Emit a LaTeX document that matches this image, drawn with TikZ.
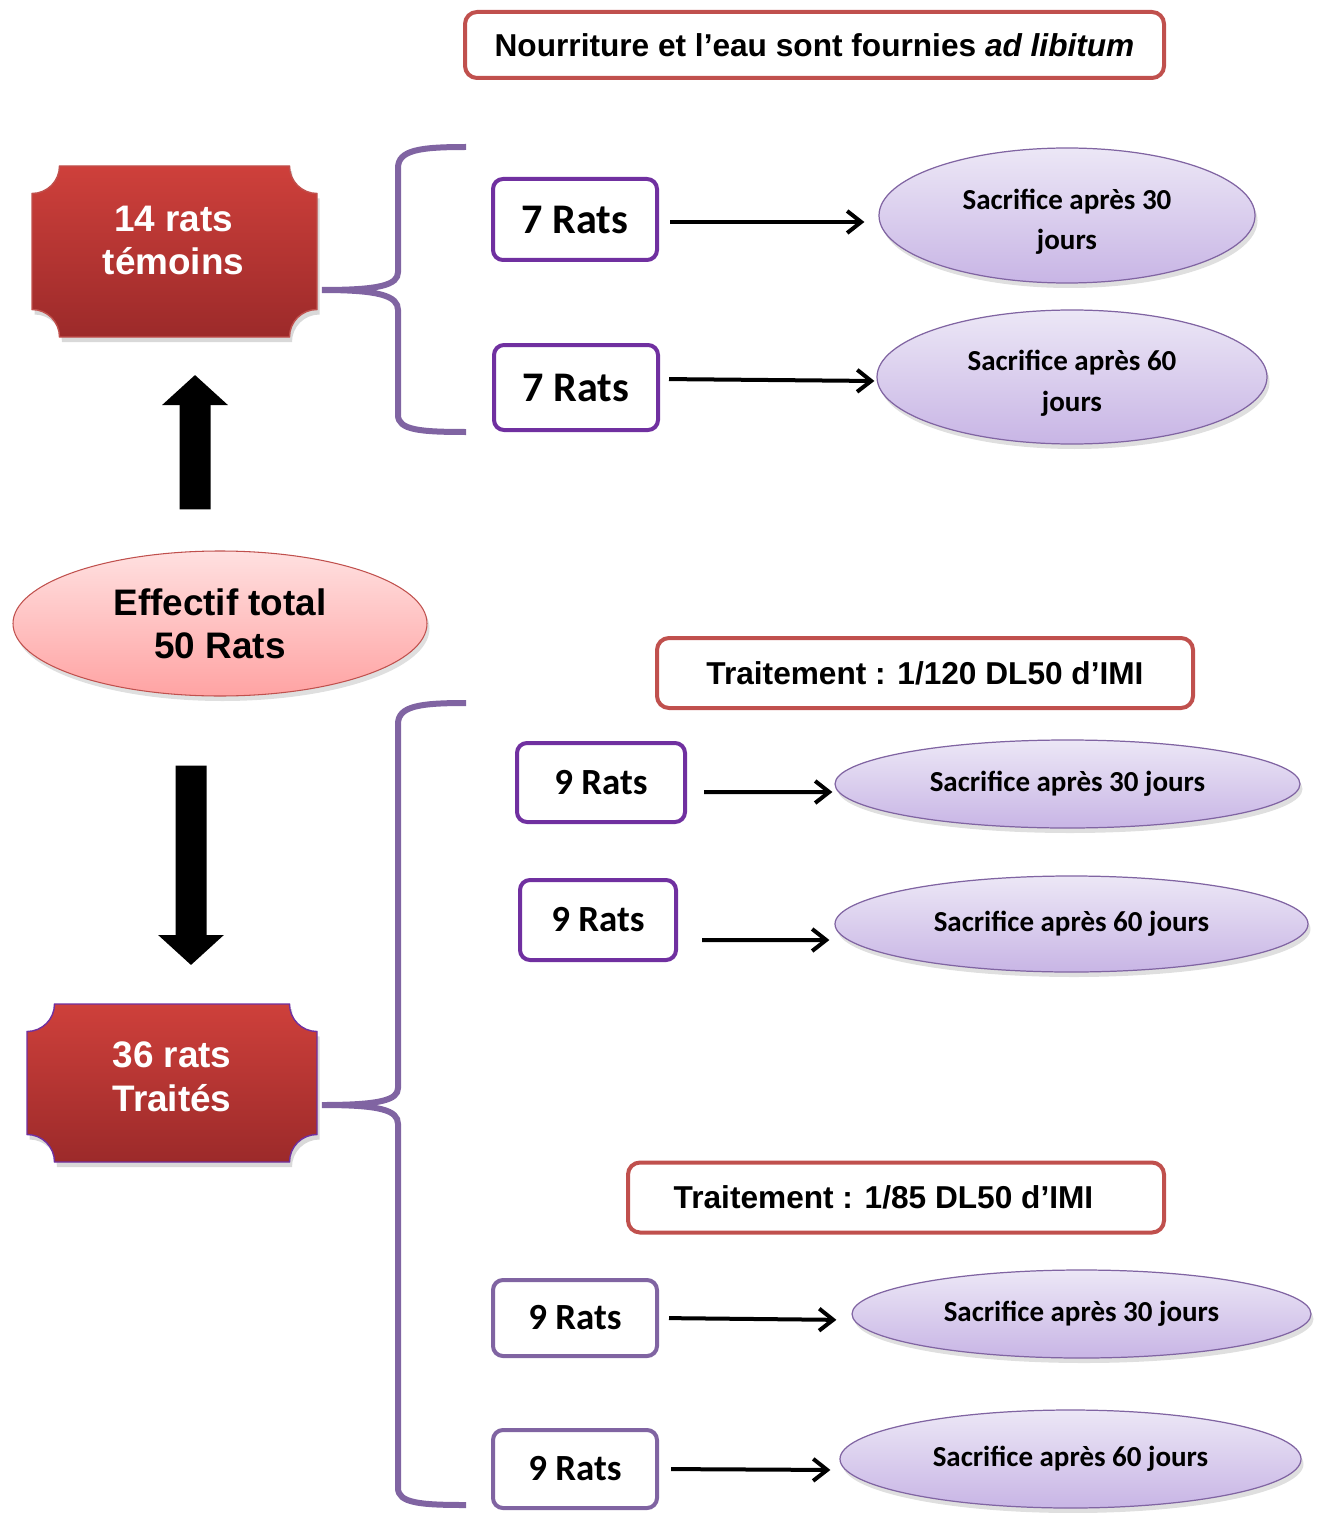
\documentclass[tikz,border=0pt]{standalone}
\usepackage{fontspec}
\setmainfont{Liberation Sans}
\newfontfamily\calib{Carlito}
\usetikzlibrary{arrows.meta,shapes.geometric,shadows,backgrounds}
\definecolor{redline}{RGB}{192,80,77}
\definecolor{violetbox}{RGB}{112,48,160}
\definecolor{lilac}{RGB}{128,100,162}
\definecolor{plqtop}{RGB}{206,64,59}
\definecolor{plqbot}{RGB}{156,42,42}
\definecolor{pinktop}{RGB}{255,224,224}
\definecolor{pinkbot}{RGB}{255,163,163}
\definecolor{lavtop}{RGB}{236,231,246}
\definecolor{lavbot}{RGB}{200,181,229}

\begin{document}
\begin{tikzpicture}[
  note/.style={draw=redline,line width=0.08cm,rounded corners=0.24cm,minimum width=10.72cm,minimum height=1.4cm,font=\fontsize{18}{22}\selectfont\bfseries},
  ratbox/.style={draw=violetbox,line width=0.08cm,rounded corners=0.2cm,minimum width=3.28cm,minimum height=1.62cm,font=\calib\fontsize{24}{28}\selectfont\bfseries},
  ninebox/.style={ratbox,font=\calib\fontsize{21}{25}\selectfont\bfseries},
  sacr/.style={ellipse,draw=lilac,line width=0.7pt,top color=lavtop,bottom color=lavbot,inner sep=0pt,align=center,font=\calib\fontsize{16.5}{23}\selectfont\bfseries,drop shadow={opacity=0.25,shadow xshift=0.05cm,shadow yshift=-0.1cm}},
  plq/.style={minimum width=5.7cm,minimum height=3.42cm,outer sep=0pt},
  plqtext/.style={align=center,text=white,font=\fontsize{21}{25}\selectfont\bfseries},
  conn/.style={line width=0.08cm,-{Straight Barb[length=0.28cm,width=0.44cm]}},
  bigarrow/.style={line width=0.62cm,-{Triangle[length=0.6cm,width=1.28cm]}},
  brace/.style={draw=lilac,line width=0.12cm}
]
\useasboundingbox (0,0) rectangle (26.36,-30.26);

\node[note,minimum width=13.98cm,minimum height=1.32cm] (food) at (16.29,-0.9) {Nourriture et l’eau sont fournies \textit{ad libitum}};
\node[plq] (pl1) at (3.49,-5.03) {};
\node[plqtext] (pl1txt) at (3.47,-4.81) {14 rats\\témoins};
\node[ellipse,draw=redline,line width=0.6pt,top color=pinktop,bottom color=pinkbot,minimum width=8.28cm,minimum height=2.9cm,inner sep=0pt,align=center,font=\fontsize{21}{24.5}\selectfont\bfseries,drop shadow={opacity=0.25,shadow xshift=0.05cm,shadow yshift=-0.1cm}] (total) at (4.4,-12.47) {Effectif total\\50 Rats};
\node[plq,minimum width=5.8cm,minimum height=3.16cm] (pl2) at (3.44,-21.66) {};
\node[plqtext] (pl2txt) at (3.44,-21.53) {36 rats\\Traités};

\begin{scope}[on background layer]
\foreach \p/\c in {pl1/redline,pl2/violetbox}
  \shadedraw[top color=plqtop,bottom color=plqbot,draw=\c,line width=0.8pt,drop shadow={opacity=0.3,shadow xshift=0.05cm,shadow yshift=-0.1cm}]
    ([xshift=0.55cm]\p.north west) -- ([xshift=-0.55cm]\p.north east)
    arc[start angle=180,end angle=270,radius=0.55cm] -- ([yshift=0.55cm]\p.south east)
    arc[start angle=90,end angle=180,radius=0.55cm] -- ([xshift=0.55cm]\p.south west)
    arc[start angle=0,end angle=90,radius=0.55cm] -- ([yshift=-0.55cm]\p.north west)
    arc[start angle=270,end angle=360,radius=0.55cm] -- cycle;
\end{scope}

\draw[bigarrow] ([xshift=-0.5cm,yshift=0.82cm]total.north) -- ([xshift=0.41cm,yshift=-0.76cm]pl1.south);
\draw[bigarrow] ([xshift=-0.58cm,yshift=-1.38cm]total.south) -- ([xshift=0.38cm,yshift=0.78cm]pl2.north);

\draw[brace] (9.32,-2.94) .. controls (8.4,-2.94) and (7.96,-3.0) .. (7.96,-3.36) -- (7.96,-5.44)
  .. controls (7.96,-5.7) and (7.6,-5.8) .. (6.44,-5.8)
  .. controls (7.6,-5.8) and (7.96,-5.92) .. (7.96,-6.2) -- (7.96,-8.3)
  .. controls (7.96,-8.6) and (8.4,-8.64) .. (9.32,-8.64);
\draw[brace] (9.32,-14.06) .. controls (8.4,-14.06) and (7.96,-14.12) .. (7.96,-14.48) -- (7.96,-21.76)
  .. controls (7.96,-22.0) and (7.6,-22.1) .. (6.44,-22.1)
  .. controls (7.6,-22.1) and (7.96,-22.2) .. (7.96,-22.48) -- (7.96,-29.76)
  .. controls (7.96,-30.06) and (8.4,-30.1) .. (9.32,-30.1);

\node[ratbox] (b1) at (11.5,-4.39) {7 Rats};
\node[ratbox,minimum height=1.7cm] (b2) at (11.52,-7.75) {7 Rats};
\node[sacr,minimum width=7.52cm,minimum height=2.7cm] (e1) at (21.34,-4.31) {\\[-0.15cm]Sacrifice après 30\\jours};
\node[sacr,minimum width=7.8cm,minimum height=2.68cm] (e2) at (21.44,-7.54) {\\[-0.15cm]Sacrifice après 60\\jours};

\node[note] (trt1) at (18.5,-13.46) {Traitement : 1/120 DL50 d’IMI};
\node[ninebox,minimum width=3.36cm,minimum height=1.58cm] (b3) at (12.02,-15.65) {9 Rats};
\node[ninebox,minimum width=3.12cm,minimum height=1.6cm] (b4) at (11.96,-18.4) {9 Rats};
\node[sacr,minimum width=9.3cm,minimum height=1.76cm] (e3) at (21.35,-15.68) {Sacrifice après 30 jours};
\node[sacr,minimum width=9.46cm,minimum height=1.92cm] (e4) at (21.43,-18.48) {Sacrifice après 60 jours};

\node[note] (trt2) at (17.92,-23.95) {Traitement : 1/85 DL50 d’IMI\hspace*{0.5cm}};
\node[ninebox,draw=lilac,minimum height=1.52cm] (b5) at (11.5,-26.36) {9 Rats};
\node[ninebox,draw=lilac,minimum height=1.56cm] (b6) at (11.5,-29.38) {9 Rats};
\node[sacr,minimum width=9.18cm,minimum height=1.76cm] (e5) at (21.63,-26.28) {Sacrifice après 30 jours};
\node[sacr,minimum width=9.22cm,minimum height=1.96cm] (e6) at (21.41,-29.18) {Sacrifice après 60 jours};

\path[conn]
  ([yshift=-0.05cm]b1.east) edge[shorten <=0.22cm,shorten >=0.28cm] ([yshift=-0.13cm]e1.west)
  ([yshift=0.17cm]b2.east) edge[shorten <=0.18cm,shorten >=0.04cm] ([yshift=-0.08cm]e2.west)
  ([yshift=-0.19cm]b3.east) edge[shorten <=0.34cm,shorten >=0.04cm] ([yshift=-0.16cm]e3.west)
  ([yshift=-0.4cm]b4.east) edge[shorten <=0.48cm,shorten >=0.1cm] ([yshift=-0.32cm]e4.west)
  (b5.east) edge[shorten <=0.2cm,shorten >=0.3cm] ([yshift=-0.12cm]e5.west)
  (b6.east) edge[shorten <=0.24cm,shorten >=0.18cm] ([yshift=-0.22cm]e6.west);
\end{tikzpicture}
\end{document}
